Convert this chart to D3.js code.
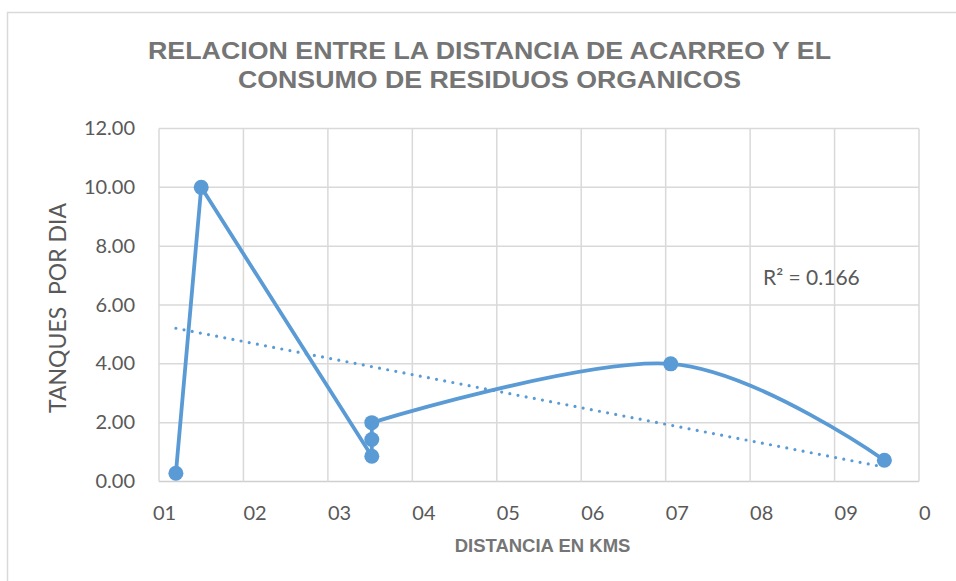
<!DOCTYPE html>
<html>
<head>
<meta charset="utf-8">
<script src="https://cdn.jsdelivr.net/npm/d3@7"></script>
<style>
  html, body { margin: 0; padding: 0; background: #fff; }
  svg { display: block; }
</style>
</head>
<body>
<svg id="chart" width="956" height="581"></svg>
<script>
// ---- data ----
const distancia = [1.2, 1.5, 3.52, 3.52, 3.52, 7.06, 9.59];
const tanques   = [0.28, 10.0, 0.86, 1.43, 2.0, 4.0, 0.72];
// segments drawn smoothed start at this point index (Excel per-point smoothing)
const smoothFrom = 4;
// linear trendline endpoints
const trendX = [1.2, 9.59];
const trendY = [5.21, 0.49];
const r2Label = "R² = 0.166";
const xTickValues = [1, 2, 3, 4, 5, 6, 7, 8, 9, 10];
const xTickLabels = ["01", "02", "03", "04", "05", "06", "07", "08", "09", "0"];
const yTickValues = [0, 2, 4, 6, 8, 10, 12];
const titleLines = ["RELACION ENTRE LA DISTANCIA DE ACARREO Y EL", "CONSUMO DE RESIDUOS ORGANICOS"];
const xTitle = "DISTANCIA EN KMS";
const yTitle = "TANQUES  POR DIA";

// ---- layout ----
const svg = d3.select("#chart");
const plot = { left: 159, right: 919, top: 128.5, bottom: 481.5 };
const x = d3.scaleLinear().domain([1, 10]).range([plot.left, plot.right]);
const y = d3.scaleLinear().domain([0, 12]).range([plot.bottom, plot.top]);
const blue = "#5b9bd5";
const grid = "#d9d9d9";
const tickColor = "#595959";
const titleColor = "#757575";
const bodyFont = "Lato, 'Open Sans', sans-serif";
const boldFont = "'Liberation Sans', Arial, sans-serif";

// outer chart border
svg.append("rect")
  .attr("x", 7.5).attr("y", 12.5).attr("width", 1000).attr("height", 700)
  .attr("fill", "none").attr("stroke", grid).attr("stroke-width", 1.5);

// gridlines
svg.append("g").selectAll("line").data(yTickValues).join("line")
  .attr("x1", plot.left).attr("x2", plot.right)
  .attr("y1", d => y(d)).attr("y2", d => y(d))
  .attr("stroke", d => d === 0 ? "#cfcfcf" : grid).attr("stroke-width", 1.5);
svg.append("g").selectAll("line").data(xTickValues).join("line")
  .attr("x1", d => x(d)).attr("x2", d => x(d))
  .attr("y1", plot.top).attr("y2", plot.bottom)
  .attr("stroke", grid).attr("stroke-width", 1.5);

// y tick labels
svg.append("g").selectAll("text").data(yTickValues).join("text")
  .attr("x", 135).attr("y", d => y(d)).attr("dy", "0.33em")
  .attr("text-anchor", "end")
  .attr("font-family", bodyFont).attr("font-size", 20).attr("fill", tickColor)
  .text(d => d3.format(".2f")(d));

// x tick labels
svg.append("g").selectAll("text").data(xTickValues).join("text")
  .attr("x", (d, i) => x(d) + (i === 0 ? -6 : 0)).attr("y", plot.bottom + 38.5)
  .attr("text-anchor", "start")
  .attr("font-family", bodyFont).attr("font-size", 20).attr("fill", tickColor)
  .text((d, i) => xTickLabels[i]);

// title
svg.append("g").selectAll("text").data(titleLines).join("text")
  .attr("x", 489.5).attr("y", (d, i) => 58.5 + i * 29)
  .attr("text-anchor", "middle")
  .attr("font-family", boldFont).attr("font-weight", "bold").attr("font-size", 23)
  .attr("fill", titleColor)
  .attr("textLength", (d, i) => i === 0 ? 683 : 503)
  .attr("lengthAdjust", "spacingAndGlyphs")
  .text(d => d);

// x axis title
svg.append("text")
  .attr("x", 542.5).attr("y", 551.5)
  .attr("text-anchor", "middle")
  .attr("font-family", boldFont).attr("font-weight", "bold").attr("font-size", 18.5)
  .attr("fill", titleColor)
  .text(xTitle);

// y axis title
svg.append("text")
  .attr("transform", "translate(66,308) rotate(-90)")
  .attr("text-anchor", "middle")
  .attr("font-family", bodyFont).attr("font-size", 23)
  .attr("fill", tickColor)
  .style("white-space", "pre")
  .attr("xml:space", "preserve")
  .text(yTitle);

// data series
const pts = distancia.map((d, i) => [d, tanques[i]]);
const straight = d3.line().x(d => x(d[0])).y(d => y(d[1])).curve(d3.curveLinear);
const smooth = d3.line().x(d => x(d[0])).y(d => y(d[1])).curve(d3.curveCardinal.tension(0));
svg.append("path")
  .attr("d", straight(pts.slice(0, smoothFrom + 1)))
  .attr("fill", "none").attr("stroke", blue).attr("stroke-width", 3.8)
  .attr("stroke-linejoin", "round").attr("stroke-linecap", "round");
svg.append("path")
  .attr("d", smooth(pts.slice(smoothFrom)))
  .attr("fill", "none").attr("stroke", blue).attr("stroke-width", 3.8)
  .attr("stroke-linecap", "round");

// trendline
const trendPts = trendX.map((d, i) => [d, trendY[i]]);
svg.append("path")
  .attr("d", straight(trendPts))
  .attr("fill", "none").attr("stroke", blue).attr("stroke-width", 3.2)
  .attr("stroke-dasharray", "0 8.3").attr("stroke-linecap", "round");

// markers
svg.append("g").selectAll("circle").data(pts).join("circle")
  .attr("cx", d => x(d[0])).attr("cy", d => y(d[1])).attr("r", 7.5)
  .attr("fill", blue);

// R² label
svg.append("text")
  .attr("x", 763).attr("y", 285)
  .attr("font-family", bodyFont).attr("font-size", 21).attr("fill", tickColor)
  .text(r2Label);
</script>
</body>
</html>
